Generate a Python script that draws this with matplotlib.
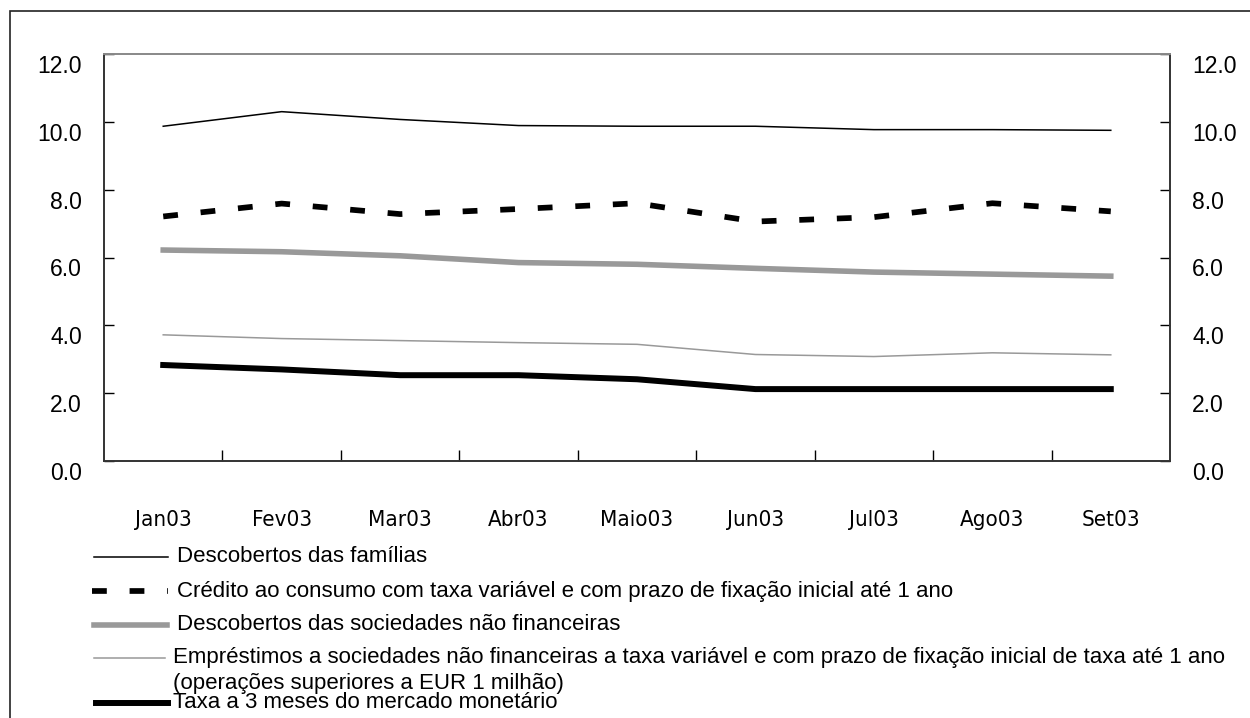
import matplotlib
matplotlib.use('Agg')
import matplotlib.pyplot as plt
from matplotlib import font_manager
from matplotlib.lines import Line2D
from matplotlib.patches import Rectangle
from matplotlib.transforms import ScaledTranslation

months = ['Jan03', 'Fev03', 'Mar03', 'Abr03', 'Maio03', 'Jun03', 'Jul03', 'Ago03', 'Set03']
desc_familias = [9.87, 10.30, 10.07, 9.89, 9.87, 9.87, 9.77, 9.77, 9.75]
credito_consumo = [7.21, 7.59, 7.28, 7.43, 7.60, 7.06, 7.19, 7.60, 7.36]
desc_snf = [6.22, 6.17, 6.05, 5.85, 5.80, 5.68, 5.57, 5.51, 5.45]
emprestimos_snf = [3.72, 3.61, 3.55, 3.49, 3.44, 3.14, 3.08, 3.19, 3.13]
taxa_3m = [2.83, 2.70, 2.53, 2.53, 2.41, 2.12, 2.12, 2.12, 2.12]
yticks = [0, 2, 4, 6, 8, 10, 12]

labels = ['Descobertos das famílias',
          'Crédito ao consumo com taxa variável e com prazo de fixação inicial até 1 ano',
          'Descobertos das sociedades não financeiras',
          'Empréstimos a sociedades não financeiras a taxa variável e com prazo de fixação inicial de taxa até 1 ano\n(operações superiores a EUR 1 milhão)',
          'Taxa a 3 meses do mercado monetário']

# condensed face for the month labels, whichever is installed
fonts = font_manager.fontManager.ttflist
names = {f.name for f in fonts}
if 'Liberation Sans Narrow' in names:
    xfont = dict(family='Liberation Sans Narrow', size=18)
elif any(f.name == 'DejaVu Sans' and f.stretch == 'condensed' for f in fonts):
    xfont = dict(family='DejaVu Sans', stretch='condensed', size=16)
else:
    xfont = dict(family='Liberation Sans', size=15.5)

W, H = 1250, 718
fig = plt.figure(figsize=(W / 100, H / 100), dpi=100)
ax = fig.add_axes([104 / W, 1 - 461 / H, (1170 - 104) / W, (461 - 54) / H])

x = list(range(len(months)))
styles = [
    dict(color='black', lw=1.1),
    dict(color='black', lw=4.1, linestyle=(0, (2.6, 4.0)), dash_capstyle='butt'),
    dict(color='#999999', lw=4.0),
    dict(color='#999999', lw=1.1),
    dict(color='black', lw=4.3),
]
series = [desc_familias, credito_consumo, desc_snf, emprestimos_snf, taxa_3m]
for ys, st in zip(series, styles):
    ax.plot(x, ys, solid_joinstyle='round', **st)

ax.set_xlim(-0.5, len(months) - 0.5)
ax.set_ylim(0, 12)

# ticks at category boundaries, labels centred on categories
ax.set_xticks([i + 0.5 for i in range(len(months) - 1)])
ax.set_xticklabels([])
ax.set_xticks(x, minor=True)
ax.set_xticklabels(months, minor=True, fontproperties=font_manager.FontProperties(**xfont))
ax.tick_params(axis='x', which='major', direction='in', length=8, width=1)
ax.tick_params(axis='x', which='minor', length=0, pad=35)

ax.set_yticks(yticks)
ax.set_yticklabels(['%.1f' % v for v in yticks])
ax.tick_params(axis='y', direction='in', length=7, width=1, pad=16,
               left=True, right=True, labelleft=True, labelright=True, labelsize=16.5)
for lab in ax.get_yticklabels():
    lab.set_family('Liberation Sans')
    lab.set_transform(lab.get_transform() + ScaledTranslation(0, -0.10, fig.dpi_scale_trans))

for side in ['left', 'bottom', 'right']:
    ax.spines[side].set_color('#333333')
    ax.spines[side].set_linewidth(1.4)
ax.spines['top'].set_color('#888888')
ax.spines['top'].set_linewidth(1.4)

# outer frame (only top and left edges visible)
fig.add_artist(Rectangle((10 / W, -0.1), 1.2, 1 - 11 / H + 0.1, transform=fig.transFigure,
                         fill=False, edgecolor='#222222', lw=1.2))

# manual legend under the chart
leg_y = [557, 591, 625, 658, 703]
leg_x0 = [94, 92, 94, 94, 96]
leg_x1 = [168, 168, 167, 165, 168]
txt_x = [177, 177, 177, 173, 173]
for i in range(5):
    yy = 1 - leg_y[i] / H
    fig.add_artist(Line2D([leg_x0[i] / W, leg_x1[i] / W], [yy, yy], transform=fig.transFigure,
                          **styles[i]))
    for j, line in enumerate(labels[i].split('\n')):
        fig.text(txt_x[i] / W, yy - j * 26 / H, line, fontsize=16.0, family='Liberation Sans',
                 va='center', ha='left')

fig.savefig('out.png', dpi=100)
